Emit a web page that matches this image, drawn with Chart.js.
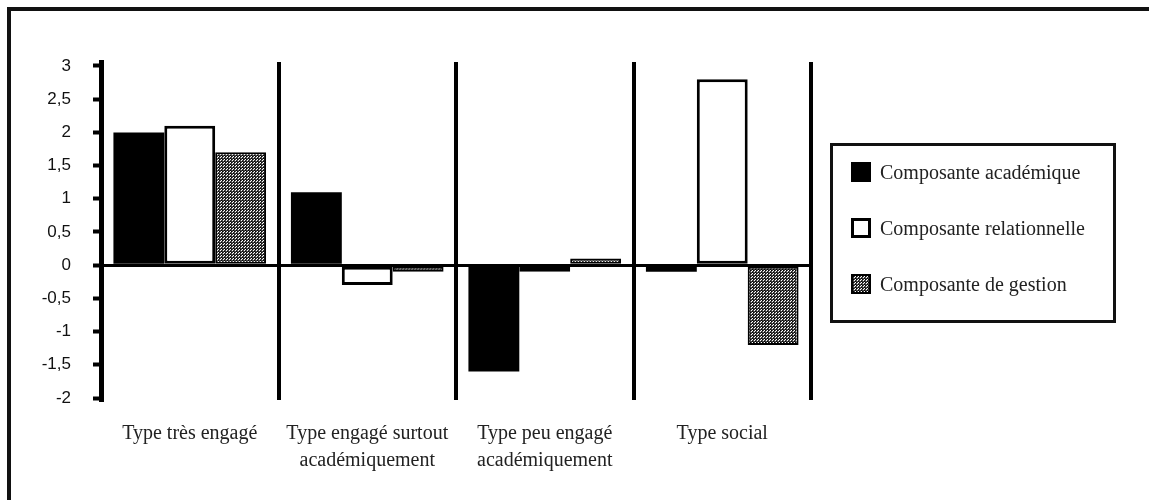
<!DOCTYPE html>
<html>
<head>
<meta charset="utf-8">
<script src="https://cdn.jsdelivr.net/npm/chart.js@4/dist/chart.umd.min.js"></script>
<style>
    body { margin: 0; background: #fff; }
    #wrap { position: relative; width: 1149px; height: 500px; overflow: hidden; }
    #frame { position: absolute; left: 7px; top: 7px; width: 1300px; height: 700px;
             border-top: 4px solid #111; border-left: 4px solid #111; }
    #legend { position: absolute; left: 830px; top: 143px; width: 280px; height: 174px;
              border: 3px solid #111; font-family: "Liberation Serif", serif; font-size: 20px; color: #222; }
    .item { position: absolute; left: 18px; height: 20px; display: flex; align-items: center; }
    .swatch { width: 20px; height: 20px; box-sizing: border-box; margin-right: 9px; }
</style>
</head>
<body>
<div id="wrap">
    <div id="frame"></div>
    <canvas id="chart" width="1149" height="500" style="position:absolute;left:0;top:0"></canvas>
    <div id="legend"></div>
</div>
<script>
// Categories (two-line labels where the original wraps)
const categories = [
    ['Type très engagé'],
    ['Type engagé surtout', 'académiquement'],
    ['Type peu engagé', 'académiquement'],
    ['Type social']
];

// Series
const seriesLabels = ['Composante académique', 'Composante relationnelle', 'Composante de gestion'];
const academique = [2.0, 1.1, -1.6, -0.1];
const relationnelle = [2.1, -0.3, -0.1, 2.8];
const gestion = [1.7, -0.1, 0.1, -1.2];

// Y axis ticks
const yTicks = [-2, -1.5, -1, -0.5, 0, 0.5, 1, 1.5, 2, 2.5, 3];

// Dotted grey texture for the "gestion" bars
function makePattern() {
    const c = document.createElement('canvas');
    c.width = 3;
    c.height = 3;
    const g = c.getContext('2d');
    g.fillStyle = '#444';
    g.fillRect(0, 0, 3, 3);
    g.fillStyle = '#000';
    g.fillRect(0, 0, 1, 1);
    g.fillRect(2, 2, 1, 1);
    g.fillStyle = '#fff';
    g.fillRect(1, 1, 1, 1);
    g.fillRect(2, 0, 1, 1);
    return c;
}
const patternCanvas = makePattern();
const ctx = document.getElementById('chart').getContext('2d');
const gestionFill = ctx.createPattern(patternCanvas, 'repeat');

const swatchStyles = [
    'background:#000;',
    'background:#fff;border:3px solid #000;',
    `background:url(${patternCanvas.toDataURL()});border:2px solid #000;`
];

const myChart = new Chart(ctx, {
    type: 'bar',
    data: {
        labels: categories,
        datasets: [
            { label: seriesLabels[0], data: academique, backgroundColor: '#000', borderWidth: 0 },
            { label: seriesLabels[1], data: relationnelle, backgroundColor: '#fff', borderColor: '#000', borderWidth: 3 },
            { label: seriesLabels[2], data: gestion, backgroundColor: gestionFill, borderColor: '#000', borderWidth: 2 }
        ]
    },
    options: {
        responsive: false,
        animation: false,
        layout: { padding: { left: 0, right: 338, top: 62, bottom: 0 } },
        datasets: { bar: { categoryPercentage: 0.86, barPercentage: 1, borderSkipped: false } },
        plugins: { legend: { display: false }, tooltip: { enabled: false } },
        scales: {
            x: {
                grid: { offset: true, color: '#000', lineWidth: 4, drawTicks: false },
                border: { display: false },
                ticks: {
                    padding: 20,
                    color: '#222',
                    font: { family: 'Liberation Serif', size: 20, lineHeight: 1.35 }
                },
                afterFit: scale => { scale.height = 100; }
            },
            y: {
                min: -2.03,
                max: 3.06,
                afterBuildTicks: scale => { scale.ticks = yTicks.map(v => ({ value: v })); },
                grid: {
                    color: c => (c.tick && Math.abs(c.tick.value) < 1e-9) ? '#000' : 'rgba(0,0,0,0)',
                    lineWidth: 3,
                    tickColor: '#000',
                    tickLength: 8,
                    tickWidth: 4
                },
                border: { display: true, color: '#000', width: 5 },
                ticks: {
                    padding: 22,
                    color: '#111',
                    font: { family: 'Liberation Sans', size: 17 },
                    callback: v => String(v).replace('.', ',')
                },
                afterFit: scale => { scale.width = 101; }
            }
        }
    }
});

// HTML legend in a framed box
const legendEl = document.getElementById('legend');
seriesLabels.forEach((label, i) => {
    const item = document.createElement('div');
    item.className = 'item';
    item.style.top = (16 + i * 56) + 'px';
    item.innerHTML = `<div class="swatch" style="${swatchStyles[i]}"></div><span>${label}</span>`;
    legendEl.appendChild(item);
});
</script>
</body>
</html>
